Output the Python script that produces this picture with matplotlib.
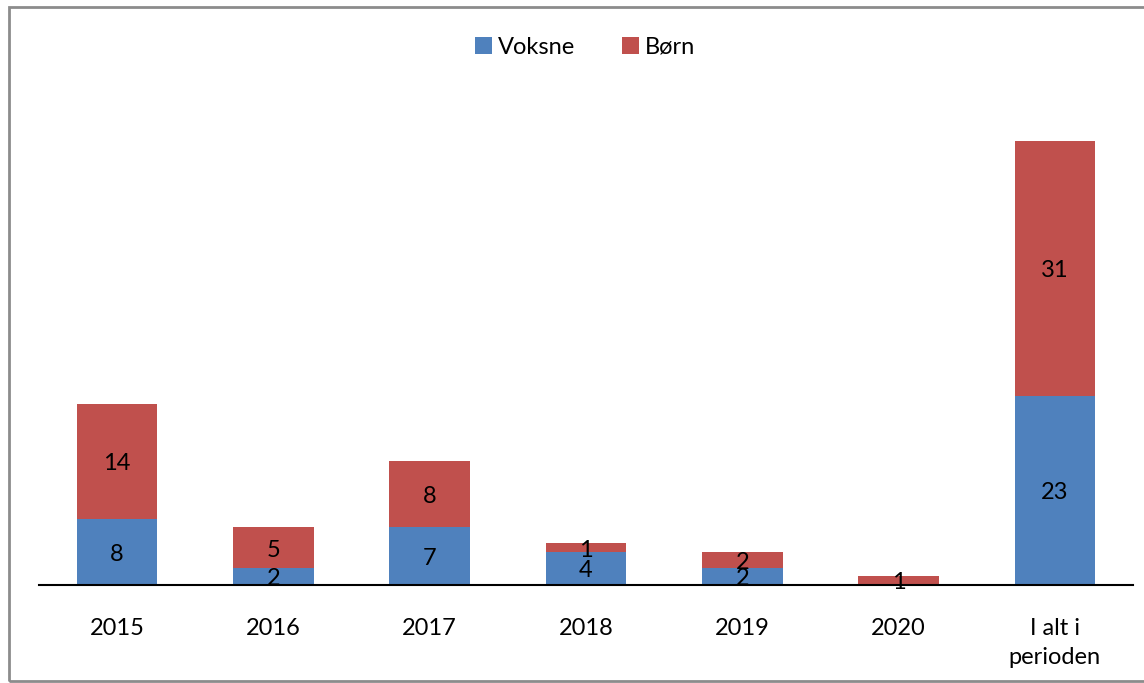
import matplotlib
matplotlib.use("Agg")
import matplotlib.pyplot as plt
from matplotlib.patches import Rectangle

categories = ["2015", "2016", "2017", "2018", "2019", "2020", "I alt i\nperioden"]
voksne = [8, 2, 7, 4, 2, 0, 23]
born = [14, 5, 8, 1, 2, 1, 31]

plt.rcParams['font.family'] = ['Lato', 'DejaVu Sans']
blue = "#4F81BD"
red = "#C0504D"

fig = plt.figure(figsize=(11.44, 6.83), dpi=100)
ax = fig.add_axes([39/1144, 1 - 584.5/683, (1133-39)/1144, (584.5-92)/683])

x = list(range(len(categories)))
w = 0.515
ax.bar(x, voksne, w, color=blue, label="Voksne")
ax.bar(x, born, w, bottom=voksne, color=red, label="Børn")

fs = 17
for i in x:
    if voksne[i] > 0:
        ax.text(i, voksne[i] / 2 - 0.3, str(voksne[i]), ha='center', va='center', fontsize=fs, color='black')
    if born[i] > 0:
        ax.text(i, voksne[i] + born[i] / 2 - 0.3, str(born[i]), ha='center', va='center', fontsize=fs, color='black')

ax.set_xlim(-0.5, len(categories) - 0.5)
ax.set_ylim(0, 60)
ax.set_yticks([])
ax.set_xticks(x)
ax.set_xticklabels(categories, fontsize=fs, linespacing=1.5)
ax.tick_params(axis='x', length=0, pad=24)
for s in ['top', 'right', 'left']:
    ax.spines[s].set_visible(False)
ax.spines['bottom'].set_linewidth(1.5)
ax.spines['bottom'].set_color('black')

ax.legend(loc='center', bbox_to_anchor=(585/1144, 1 - 47/683), bbox_transform=fig.transFigure,
          ncol=2, frameon=False, fontsize=fs, handlelength=0.7, handleheight=0.7,
          handletextpad=0.25, columnspacing=2.0)

fig.patches.append(Rectangle((9/1144, 1 - 681/683), (1160-9)/1144, (681-7)/683,
                             transform=fig.transFigure, fill=False, edgecolor='#8c8c8c',
                             linewidth=2, clip_on=False))

fig.savefig("out.png", dpi=100)
